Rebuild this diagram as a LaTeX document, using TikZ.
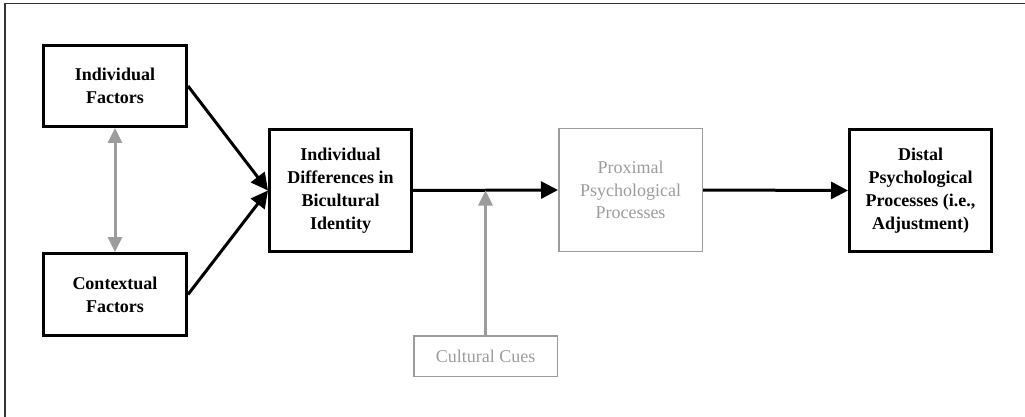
\documentclass[tikz,border=0pt]{standalone}
\usepackage{fontspec}
\setmainfont{Liberation Serif}
\usetikzlibrary{arrows.meta}
\definecolor{lightgrey}{HTML}{9C9C9C}
\definecolor{framegrey}{HTML}{333333}
\begin{document}
\begin{tikzpicture}[x=1pt, y=-1pt,
    blackbox/.style={draw=black, line width=3pt, inner sep=0pt, align=center,
        font=\fontsize{18}{23}\selectfont\bfseries, minimum width=142pt},
    greybox/.style={draw=lightgrey, line width=1.5pt, inner sep=0pt, align=center,
        text=lightgrey, font=\fontsize{18}{22.5}\selectfont, minimum width=143.5pt},
    blackarrow/.style={line width=3pt, -{Triangle[length=17pt, width=17pt]}},
    greyarrow/.style={draw=lightgrey, line width=3pt, {Triangle[length=15pt, width=14pt]}-{Triangle[length=15pt, width=14pt]}}]
    \useasboundingbox (0,0) rectangle (1025,417);
    % frame, cut off at right and bottom
    \draw[framegrey, line width=1.5pt] (5,417) -- (5,3.5) -- (1025,3.5);

    \node[blackbox, minimum height=81pt, minimum width=143pt] (indf) at (115,86) {Individual\\Factors};
    \node[blackbox, minimum height=82pt, minimum width=143pt] (ctxf) at (115,294.5) {Contextual\\Factors};
    \node[blackbox, minimum height=122pt] (idbi) at (340.5,190.5) {Individual\\Differences in\\Bicultural\\Identity};
    \node[greybox, minimum height=122.5pt] (prox) at (630.5,190) {Proximal\\Psychological\\Processes};
    \node[blackbox, minimum height=122pt] (dist) at (920.5,190.5) {Distal\\Psychological\\Processes (i.e.,\\Adjustment)};
    \node[greybox, minimum height=40.5pt] (cult) at (485.5,356) {Cultural Cues};

    \draw[blackarrow] (indf.east) -- (idbi.west);
    \draw[blackarrow] (ctxf.east) -- (idbi.west);
    \draw[greyarrow] (indf.south) -- (ctxf.north);
    \draw[blackarrow] (idbi.east) -- (prox.west);
    \draw[blackarrow] (prox.east) -- (dist.west);

    % cues act on the link between identity and proximal processes
    \coordinate (cue) at (cult.north |- idbi.east);
    \draw[greyarrow, {-Triangle[length=15pt, width=14pt]}] (cult.north) -- (cue);
\end{tikzpicture}
\end{document}
